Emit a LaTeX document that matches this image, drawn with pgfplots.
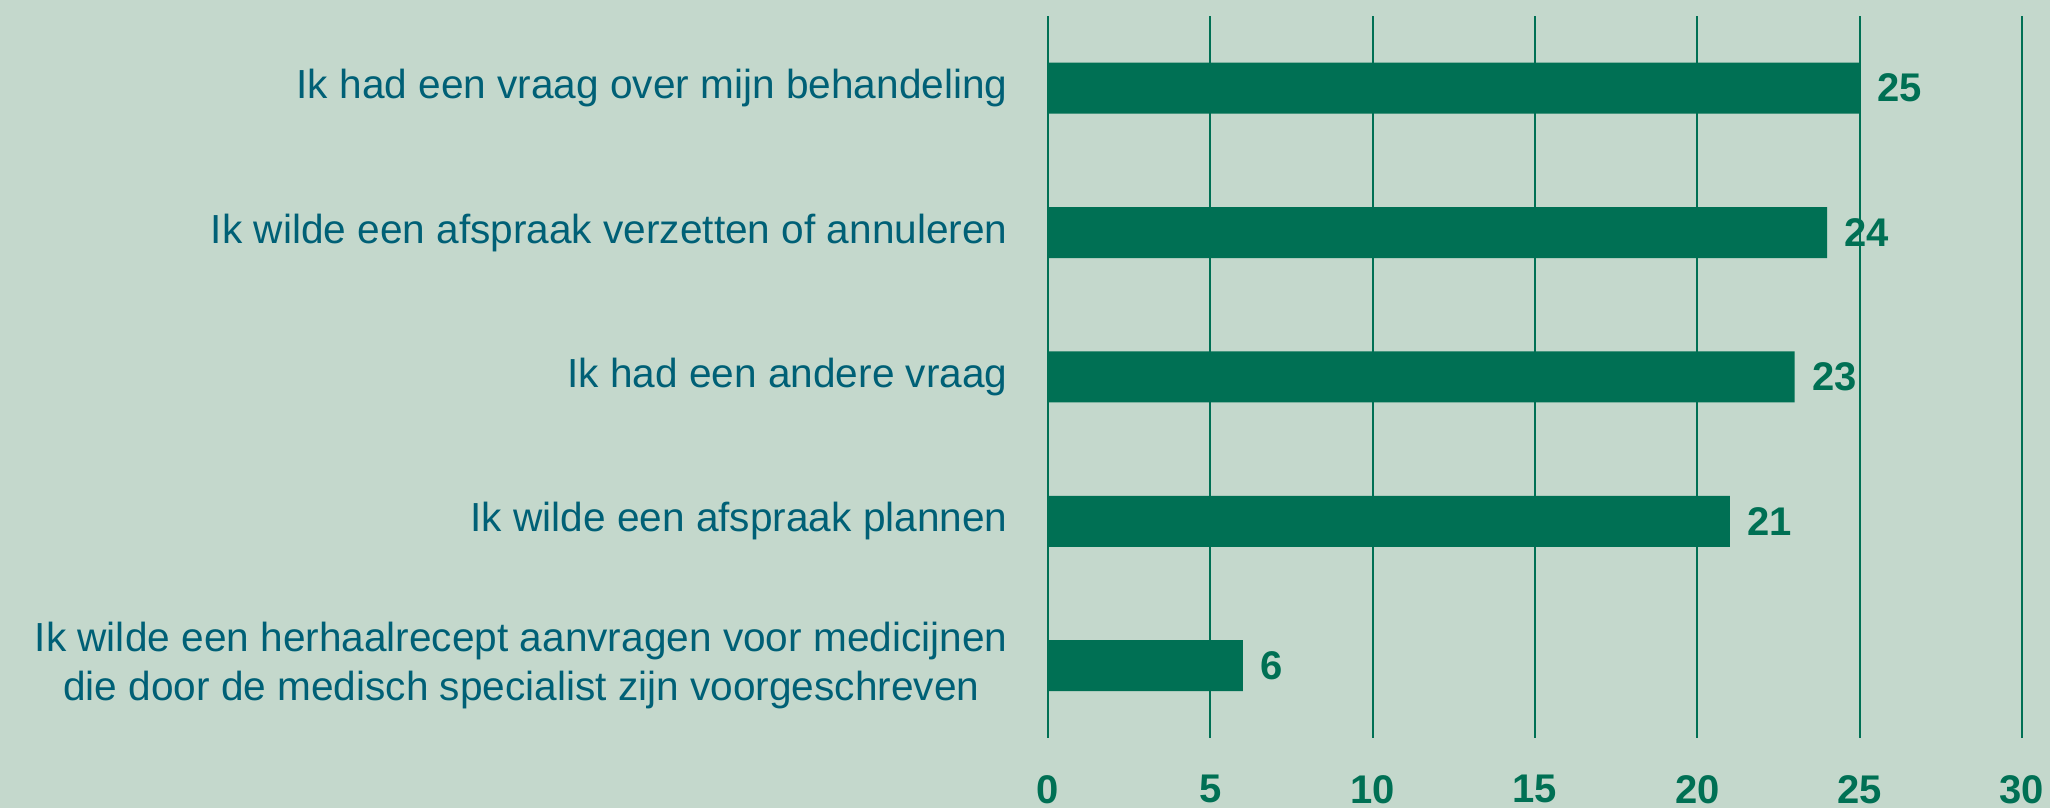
\documentclass[border=0pt]{standalone}
\usepackage{fontspec}
\setmainfont{Liberation Sans}
\usepackage{pgfplots}
\pgfplotsset{compat=1.18}
\definecolor{bg}{RGB}{196,216,204}
\definecolor{bargreen}{RGB}{0,112,84}
\definecolor{labteal}{RGB}{0,96,118}

\begin{document}
\begin{tikzpicture}
% page: 2050x808 px at 0.5pt per px
\fill[bg] (-524pt,-35.1pt) rectangle (501pt,368.9pt);
\useasboundingbox (-524pt,-35.1pt) rectangle (501pt,368.9pt);
\begin{axis}[
  at={(0,0)}, anchor=south west,
  scale only axis, width=487pt, height=360.9pt,
  xbar, bar width=25.5pt,
  y dir=reverse,
  xmin=0, xmax=30, ymin=-0.5, ymax=4.5,
  xtick={0,5,...,30},
  ytick={0,1,2,3,4},
  yticklabels={Ik had een vraag over mijn behandeling,
               Ik wilde een afspraak verzetten of annuleren,
               Ik had een andere vraag,
               Ik wilde een afspraak plannen,
               {Ik wilde een herhaalrecept aanvragen voor medicijnen\\die door de medisch specialist zijn voorgeschreven}},
  /pgf/number format/assume math mode=true,
  axis line style={draw=none},
  major tick length=0pt,
  xmajorgrids, grid style={bargreen, line width=1pt},
  yticklabel style={font=\fontsize{20.3}{24.5}\selectfont, text=labteal,
                    align=center, inner sep=0pt, xshift=-20pt},
  xticklabel style={font=\fontsize{20}{23}\selectfont\bfseries, text=bargreen,
                    inner sep=0pt, anchor=north, yshift=-18.5pt},
  nodes near coords,
  nodes near coords style={font=\fontsize{20}{24}\selectfont\bfseries,
                           text=bargreen, anchor=west, inner sep=0pt, xshift=8.5pt},
]
\addplot[fill=bargreen, draw=none] coordinates {
  (25,0) (24,1) (23,2) (21,3) (6,4)
};
\end{axis}
\end{tikzpicture}
\end{document}
